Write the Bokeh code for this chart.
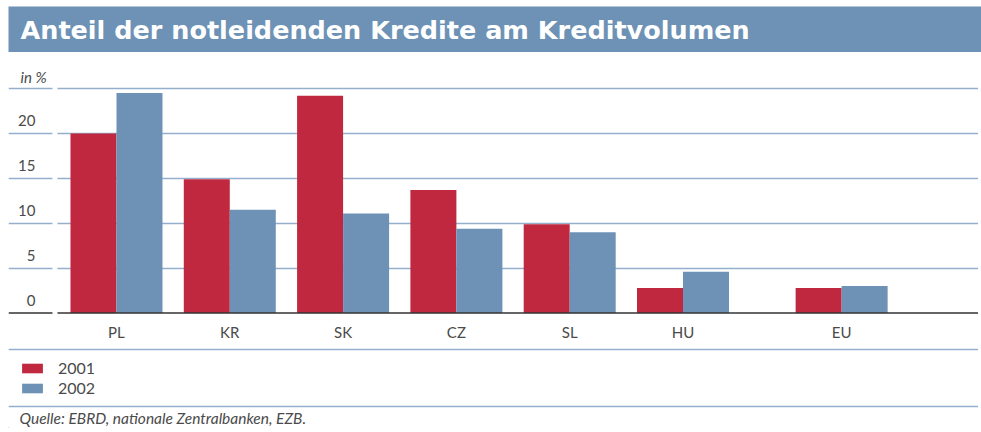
from bokeh.plotting import figure
from bokeh.models import (ColumnDataSource, Range1d, FixedTicker, Grid, Span,
                          BoxAnnotation, Label, Legend, LegendItem)
from bokeh.layouts import column
from bokeh.transform import dodge
from bokeh.core.properties import value
from bokeh.embed import file_html
from bokeh.resources import INLINE

# ---------------- data ----------------
title_text = "Anteil der notleidenden Kredite am Kreditvolumen"
categories = ["PL", "KR", "SK", "CZ", "SL", "HU", "EU"]
v2001 = [20.0, 14.9, 24.2, 13.7, 9.9, 2.8, 2.8]
v2002 = [24.5, 11.5, 11.1, 9.4, 9.0, 4.6, 3.0]
series_names = ["2001", "2002"]
y_ticks = [0, 5, 10, 15, 20]
y_tick_labels = ["0", "5", "10", "15", "20"]
grid_ticks = [5, 10, 15, 20, 25]
unit_label = "in %"
source_note = "Quelle: EBRD, nationale Zentralbanken, EZB."

# ---------------- style ----------------
RED = "#c0283f"
BLUE = "#6d92b5"
GRID = "#93afcc"
TXT = "#4a4a4a"
FONT = "Lato"
W = 970
EU_GAP = 0.4
BAR_W = 0.406

xpos = [i + (EU_GAP if c == "EU" else 0.0) for i, c in enumerate(categories)]
src = ColumnDataSource(dict(x=xpos, cat=categories, a=v2001, b=v2002))

# ---------------- title bar ----------------
t = figure(width=973, height=46, output_backend="svg", toolbar_location=None,
           x_range=Range1d(0, 973), y_range=Range1d(0, 46),
           x_axis_location=None, y_axis_location=None,
           min_border=0, outline_line_color=None,
           background_fill_color=BLUE, border_fill_color=BLUE)
t.xgrid.visible = False
t.ygrid.visible = False
t.add_layout(Label(x=12, y=22.5, text=title_text, text_color="white",
                   text_font="DejaVu Sans", text_font_style="bold",
                   text_font_size="25.5px", text_baseline="middle"))

# ---------------- main chart ----------------
p = figure(width=W, height=291, output_backend="svg", toolbar_location=None,
           x_range=Range1d(-0.953, 7.608), y_range=Range1d(-0.276, 28.02),
           y_axis_location=None, min_border_left=0, min_border_right=0,
           min_border_top=9, min_border_bottom=26, outline_line_color=None)
p.xgrid.visible = False
p.ygrid.visible = False

g = Grid(dimension=1, ticker=FixedTicker(ticks=grid_ticks),
         grid_line_color=GRID, grid_line_width=1.6)
p.add_layout(g, "center")

p.vbar(x=dodge("x", -BAR_W / 2, range=p.x_range), top="a", width=BAR_W,
       source=src, fill_color=RED, line_color=None)
p.vbar(x=dodge("x", BAR_W / 2, range=p.x_range), top="b", width=BAR_W,
       source=src, fill_color=BLUE, line_color=None)

p.add_layout(Span(location=0, dimension="width", line_color="#333333",
                  line_width=1.6))
p.add_layout(BoxAnnotation(left=-0.565, right=-0.521, fill_color="white",
                           fill_alpha=1.0, line_color=None))

# y tick labels (sitting above their gridlines)
p.text(x=[-0.715] * len(y_ticks), y=y_ticks, text=y_tick_labels,
       text_align="right", text_baseline="middle", y_offset=-13,
       text_font=value(FONT), text_font_size="15px", text_color=TXT)
p.text(x=[-0.847], y=[grid_ticks[-1]], text=[unit_label],
       text_align="left", text_baseline="middle", y_offset=-12,
       text_font=value(FONT), text_font_style="italic",
       text_font_size="15px", text_color=TXT)

ax = p.xaxis[0]
ax.ticker = FixedTicker(ticks=xpos)
ax.major_label_overrides = {x: c for x, c in zip(xpos, categories)}
ax.axis_line_color = None
ax.major_tick_line_color = None
ax.minor_tick_line_color = None
ax.major_tick_out = 0
ax.major_tick_in = 0
ax.major_label_standoff = 7
ax.major_label_text_font = FONT
ax.major_label_text_font_size = "15px"
ax.major_label_text_color = TXT

# ---------------- legend + source ----------------
BH = 85
b = figure(width=W, height=BH, output_backend="svg", toolbar_location=None,
           x_range=Range1d(0, W), y_range=Range1d(0, BH),
           x_axis_location=None, y_axis_location=None,
           min_border=0, outline_line_color=None)
b.xgrid.visible = False
b.ygrid.visible = False
b.add_layout(Span(location=BH - 6, dimension="width", line_color=GRID, line_width=1.6))
b.add_layout(Span(location=BH - 63, dimension="width", line_color=GRID, line_width=1.6))

# legend-only renderers, placed outside the visible range
dummy = ColumnDataSource(dict(x=[-1000], top=[1]))
r1 = b.vbar(x="x", top="top", width=1, source=dummy, fill_color=RED, line_color=None)
r2 = b.vbar(x="x", top="top", width=1, source=dummy, fill_color=BLUE, line_color=None)
leg = Legend(items=[LegendItem(label=series_names[0], renderers=[r1]),
                    LegendItem(label=series_names[1], renderers=[r2])],
             location=(11, 31), orientation="vertical",
             glyph_width=26, glyph_height=12, label_height=19, spacing=1,
             label_standoff=13, padding=0, margin=0,
             border_line_color=None, background_fill_alpha=0,
             label_text_font=FONT, label_text_font_size="16px",
             label_text_color=TXT)
b.add_layout(leg)
b.add_layout(Label(x=11, y=11, text=source_note, text_baseline="middle",
                   text_font=FONT, text_font_style="italic",
                   text_font_size="15.5px", text_color=TXT))

layout = column(t, p, b, spacing=0, margin=(6, 0, 0, 8))
open("out.html", "w").write(file_html(layout, INLINE))
